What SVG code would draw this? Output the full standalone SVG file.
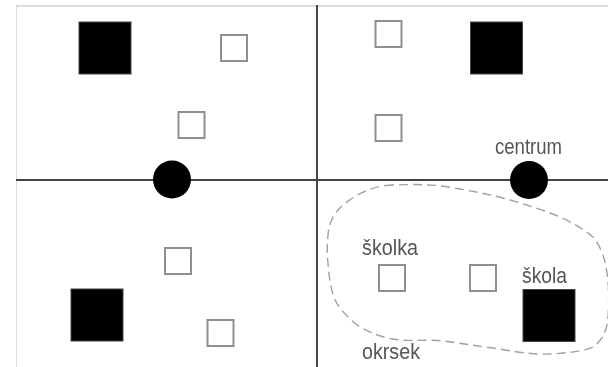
<svg xmlns="http://www.w3.org/2000/svg" width="608" height="367" viewBox="0 0 608 367">
<defs><filter id="soft" x="0" y="0" width="100%" height="100%"><feGaussianBlur stdDeviation="0.55"/></filter></defs>
<style>
.b{fill:#000;stroke:#444;stroke-width:1}
.o{fill:#fff;stroke:#8f8f8f;stroke-width:2}
.c{fill:#000}
.t{font-family:"Liberation Sans",Arial,sans-serif;font-size:22px;fill:#555}
.l{stroke:#444;stroke-width:2;fill:none}
</style>
<rect width="608" height="367" fill="#fff"/>
<g filter="url(#soft)">
<g id="connectors">
<path d="M16 6H608M16 6V367" fill="none" stroke="#d0d0d0" stroke-width="1.5"/>
<path class="l" d="M16 180H608M317 5V367"/>
<path d="M393 185C375 185 356 194 343 205C334 213 329 222 328 235C327 245 327 254 328 263C329 278 331 290 335 300C341 311 350 320 360 327C371 333 381 337 393 339C410 342 427 339 443 341C460 343 476 346 493 348C512 351 532 355 550 354C568 353 584 351 593 347C603 340 607 330 608 317C609 302 609 287 607 273C605 258 601 247 593 237C585 230 573 223 560 217C544 210 527 205 510 200C493 195 477 192 460 189C449 187 438 185 427 185C416 184 404 185 393 185Z" fill="none" stroke="#a0a0a0" stroke-width="1.4" stroke-dasharray="9 5"/>
</g>
<g id="school1"><rect class="b" x="79" y="22" width="52" height="52"/></g>
<g id="school2"><rect class="b" x="470.500" y="22" width="52" height="52"/></g>
<g id="school3"><rect class="b" x="71" y="289" width="52" height="52"/></g>
<g id="school4"><rect class="b" x="523" y="289.500" width="52" height="52"/><text class="t" x="522" y="283" textLength="45" lengthAdjust="spacingAndGlyphs">škola</text></g>
<g id="nursery1"><rect class="o" x="221" y="35" width="26" height="26"/></g>
<g id="nursery2"><rect class="o" x="178.500" y="112" width="26" height="26"/></g>
<g id="nursery3"><rect class="o" x="375.500" y="21" width="26" height="26"/></g>
<g id="nursery4"><rect class="o" x="375.500" y="115" width="26" height="26"/></g>
<g id="nursery5"><rect class="o" x="165" y="248" width="26" height="26"/></g>
<g id="nursery6"><rect class="o" x="207.500" y="320" width="26" height="26"/></g>
<g id="nursery7"><rect class="o" x="379" y="265" width="26" height="26"/><text class="t" x="362" y="255" textLength="56" lengthAdjust="spacingAndGlyphs">školka</text></g>
<g id="nursery8"><rect class="o" x="470" y="265" width="26" height="26"/></g>
<g id="center1"><circle class="c" cx="172" cy="179.500" r="19"/></g>
<g id="center2"><circle class="c" cx="529" cy="180" r="19"/><text class="t" x="495" y="154" textLength="67" lengthAdjust="spacingAndGlyphs">centrum</text></g>
<g id="district"><text class="t" x="362" y="359" textLength="58" lengthAdjust="spacingAndGlyphs">okrsek</text></g>
</g>
</svg>
